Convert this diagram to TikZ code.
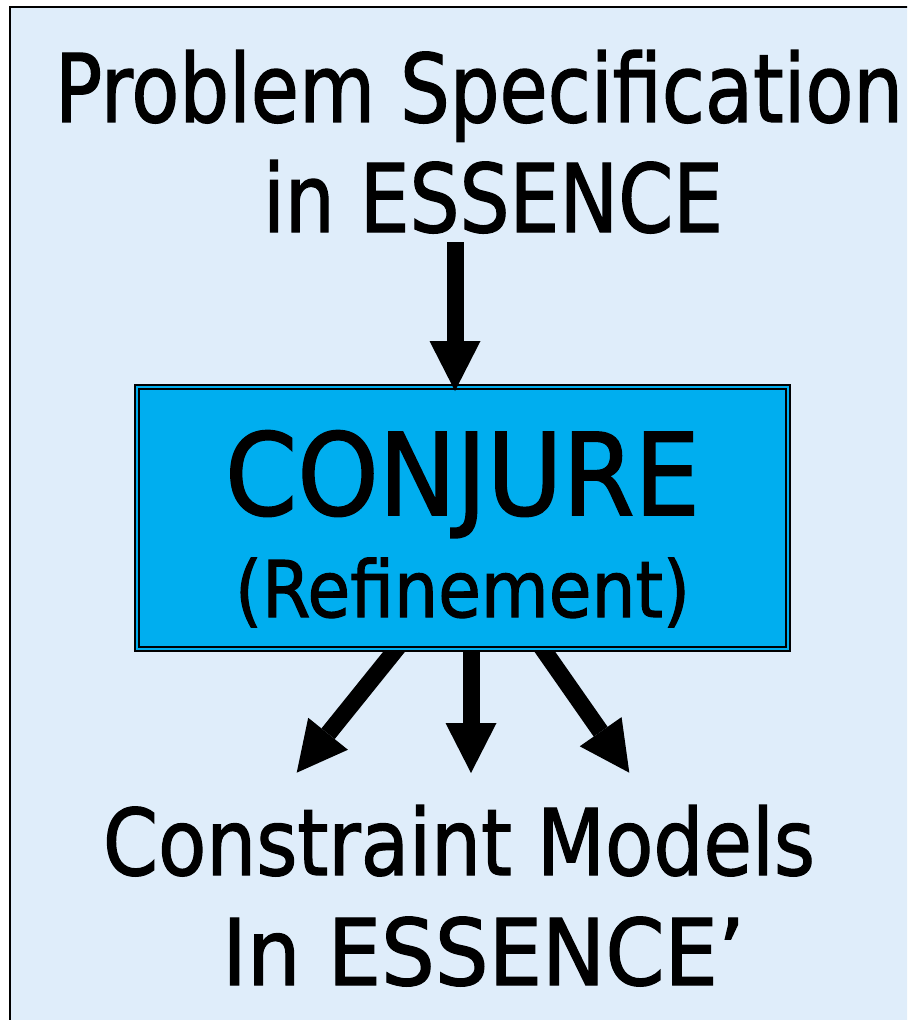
\documentclass[tikz,border=0pt]{standalone}
\usepackage{fontspec}
\usepackage{graphicx}
\setmainfont{DejaVu Sans}[FakeBold=1.5]
\usetikzlibrary{arrows.meta}

\definecolor{panelbg}{HTML}{DFEDFA}
\definecolor{boxblue}{HTML}{00AEEF}

% set #3 at size #2, stretched horizontally to the width #1
\newsavebox\fitbox
\newcommand\fitto[3]{%
  \fontsize{#2}{#2}\selectfont
  \sbox\fitbox{#3}%
  \scalebox{\fpeval{#1/\the\wd\fitbox}}[1]{\usebox\fitbox}}

\tikzset{
  lbl/.style={anchor=base, inner sep=0pt, outer sep=0pt},
  flow/.style={line width=12.75pt,
    -{Triangle[width=38.25pt,length=37.5pt,line width=0pt]}},
  stage/.style={draw=black, fill=boxblue, line width=1.8pt,
    double=boxblue, double distance=1.1pt,
    minimum width=488.25pt, minimum height=196.5pt,
    inner sep=0pt, outer sep=0pt},
}

\begin{document}
\begin{tikzpicture}[x=0.75pt,y=-0.75pt]
\useasboundingbox (0,0) rectangle (907,1020);
\clip (0,0) rectangle (907,1020);

% panel
\fill[panelbg] (10,7) rectangle (930,1040);
\draw[line width=1.5pt] (10,1040) -- (10,7) -- (930,7);

% input
\node[lbl] (spec1) at (479,122) {\fitto{636pt}{71pt}{Problem Specification}};
\node[lbl] (spec2) at (493,232) {\fitto{345pt}{71pt}{in ESSENCE}};

% refinement stage
\node[stage] (conj) at (462.5,518) {};
\node[lbl] (conj1) at (462.5,515) {\fitto{356.25pt}{85.4pt}{CONJURE}};
\node[lbl] (conj2) at (462.5,617) {\fitto{341.25pt}{58.6pt}{(Refinement)}};

% output
\node[lbl] (out1) at (459,875) {\fitto{534pt}{69pt}{Constraint Models}};
\node[lbl] (out2) at (483.5,985) {\fitto{392pt}{69pt}{In ESSENCE’}};

% arrow ends
\coordinate (inTail) at (455,242);
\coordinate (inTip) at (455,391);
\coordinate (srcL) at (396.3,0);
\coordinate (srcM) at (471,0);
\coordinate (srcR) at (542.9,0);
\coordinate (tipL) at (296.7,772.7);
\coordinate (tipM) at (471,773);
\coordinate (tipR) at (629.3,772.7);

\draw[flow] (inTail) -- (inTip);

\begin{scope}
  \clip (0,652) rectangle (907,1020);
  \draw[flow, shorten <=-8pt] (conj.south -| srcL) -- (tipL);
  \draw[flow, shorten <=-8pt] (conj.south -| srcM) -- (tipM);
  \draw[flow, shorten <=-8pt] (conj.south -| srcR) -- (tipR);
\end{scope}
\end{tikzpicture}
\end{document}
